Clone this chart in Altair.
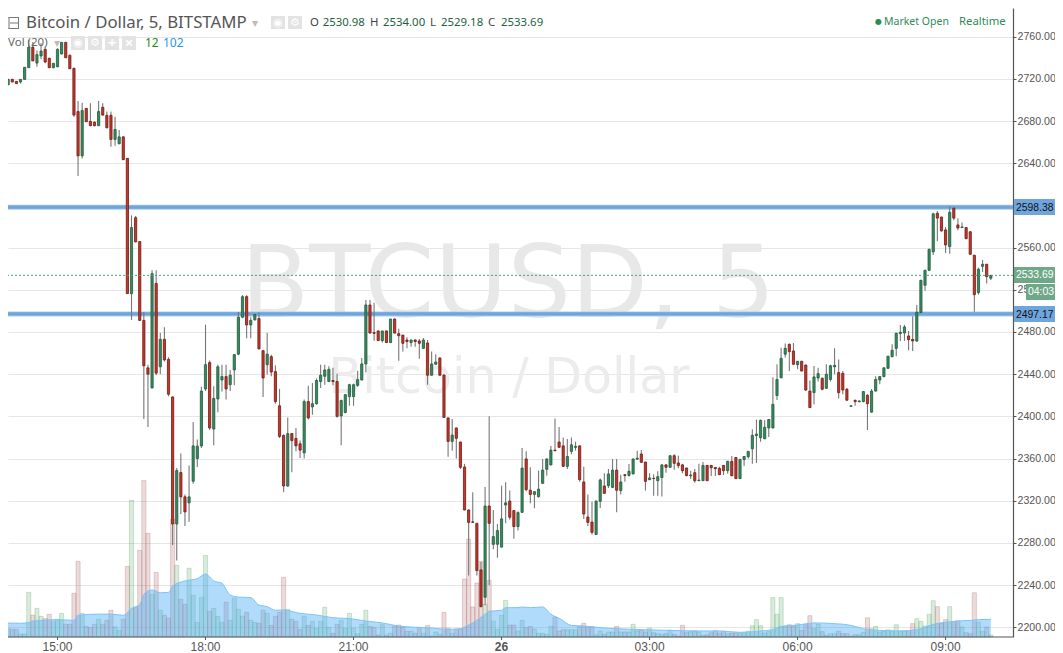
import altair as alt
import pandas as pd

first_bar = -13
opens = [
 2728,2714.5,2719.5,2717.6,2717,2719.5,2730.6,2750,2735,2741.7,
 2748,2739.5,2730.6,2731.5,2743.6,2754.6,2742.3,2730,2689,2647,
 2692,2679.7,2679,2675.6,2693,2685.4,2685.4,2662.6,2658.5,2665,
 2644.6,2516.4,2588.4,2565.7,2491,2446,2427,2526,2447,2473,
 2454,2418.4,2298,2346.7,2323.7,2318,2338.5,2360,2372,2426,
 2451,2388,2416.5,2434.5,2437.7,2430,2444,2459,2494,2513.5,
 2486.7,2491.5,2492.7,2462.3,2449,2456.6,2442.4,2410,2381.8,2334,
 2383.7,2379,2374,2365.4,2414,2409,2412,2433,2438,2433,
 2434,2433,2400.4,2403.6,2418.7,
 2418.7,2429.4,2434.5,2449.7,2505.6,2479.4,2481,2471.8,2481,2470,
 2492.3,2478.4,2477,2472.4,2470,2472.4,2471.5,2464.5,2469.6,2439,
 2449.4,2455.3,2439.2,2398.5,2376.3,2389,2375.7,2352,2311.2,2300,
 2298.6,2254.4,2228.5,2315,2278.7,2278.7,2276,2316,2319.7,2310.7,
 2295.5,2309,2359.6,2330,2326,2323.9,2336.5,2349.8,2354,2368,
 2375.7,2372,2352.6,2366.8,2370.6,2372,2337.8,2304.6,2299.8,2288,
 2319.5,2334,2334.3,2332.7,2349,2329.6,2344.7,2344,2345.4,2359.4,
 2364.3,2356.7,2340,2341.2,2339,2342,2354,2351.7,2362.7,2355.8,
 2354,2351,2343.6,2346.6,2339,
 2339,2353.5,2353.5,2351.6,2350.7,2353.5,2348.5,2357.3,2361,2341,
 2359,2361.8,2369.3,2381.7,2379.8,2378.8,2389,2389,2419.7,2436.7,
 2458.9,2468.3,2462,2449,2452.2,2448.7,2424,2422.5,2436.4,2436,
 2426.6,2435,2447,2441.5,2440.8,2425.7,2409.5,2415.3,2413.9,2414,
 2420,2404,2424,2434.5,2437.7,2445.6,2456.6,2464.5,2478.5,2479,
 2476.2,2473,2471.5,2498.4,2524.3,2538.5,2556,2592.5,2589,2576.8,
 2561,2597.3,2581.5,2579,2579,2575,2552.7,2517.3,2542.3,2544.2,
 2530.98,
]
highs = [
 2729.5,2720,2720,2718,2719.5,2731,2757,2755,2747,2753.7,
 2750.5,2740,2735,2749,2755,2755,2743,2730.5,2699,2697.4,
 2692.5,2696.8,2679.5,2699,2696.8,2689,2689,2684,2671.5,2665.5,
 2645,2590.6,2590,2566,2499,2449,2538.5,2538.5,2479,2484.5,
 2456,2419,2351,2364.7,2326,2353.4,2394.7,2378,2428,2487,
 2453,2428.5,2449,2449,2449,2444,2459,2499,2515,2514.8,
 2494,2497,2498.7,2463,2479,2458.5,2448.5,2426,2383,2399,
 2384,2389,2377,2416,2429,2431.7,2436,2449,2449,2447.5,
 2446,2440.5,2416,2421,2431,
 2431,2443.3,2455.3,2510.3,2510.3,2507.8,2481.5,2481,2481.5,2492.3,
 2492.8,2483,2477.5,2475,2472.8,2473,2473.4,2474.3,2472.4,2461.4,
 2459,2456,2439.7,2399,2397.5,2389.5,2376,2355,2312,2328,
 2299,2262,2333,2400,2311.3,2298,2334.3,2337.5,2329.6,2311,
 2310,2370,2367,2351.7,2329,2348.5,2359.6,2360,2372,2398,
 2390,2380,2378.5,2380,2376,2372.5,2352.3,2325.8,2319,2320.2,
 2341,2346,2350,2359.6,2359.6,2344.7,2345,2354.8,2360,2367.5,
 2368,2357,2346,2345,2348,2354.5,2354.5,2363,2364,2362.7,
 2355,2351.5,2348.5,2350,2355,
 2356.7,2354,2354,2352,2352.3,2354,2357.8,2362.4,2361.5,2359.6,
 2362.5,2367,2387.7,2397,2397,2396.2,2397.5,2437,2449.4,2465,
 2469,2469,2469.6,2452.6,2452.7,2449,2434,2447.8,2446,2437,
 2449.4,2449,2464.5,2454,2443,2427,2410.5,2415.8,2415,2424,
 2421,2426,2438,2438.2,2446.5,2457.5,2468.3,2479.3,2486.7,2486.7,
 2481,2495,2505.6,2529.5,2539,2558.9,2593,2594.8,2589.5,2579.6,
 2598.9,2598.6,2587.8,2583.7,2579.6,2575.7,2553.2,2541,2548.3,2544.7,
 2534,
]
lows = [
 2714,2714,2717,2715.5,2715.5,2719.5,2730.6,2737,2731.5,2738.5,
 2734.7,2730.6,2730,2731,2743,2740,2729.6,2684,2628,2644.6,
 2679,2675,2675,2675.6,2685,2673,2655.7,2656.6,2658,2643,
 2516,2491.4,2565,2490.5,2397.5,2390,2426.5,2439,2440,2452,
 2419,2278,2263.3,2307.5,2296,2300,2336,2352,2370,2424,
 2387,2372.6,2404,2423.6,2416,2424,2429.5,2458,2493,2474,
 2474,2491,2463.5,2418.4,2439.6,2438,2412,2379.5,2328,2333,
 2347,2367,2360.6,2360,2397,2401.6,2411,2427,2430,2433,
 2429.5,2399,2372.6,2403,2410,
 2410,2428,2434,2441.7,2478.5,2471.8,2471.5,2470,2470,2469.5,
 2478.5,2452.8,2461.4,2464.5,2466,2466,2454.7,2464,2430,2438.5,
 2449,2438.5,2399,2361.8,2367.5,2360,2350,2311,2249,2299,
 2249,2219,2221,2240,2274,2266,2276,2298.6,2302,2284,
 2291.7,2308.5,2329,2317.5,2312.8,2323,2336,2343.8,2353.5,2367,
 2370,2352,2350,2364,2367.5,2338,2302.7,2296,2288,2287.5,
 2313,2327,2332,2332,2309,2325.8,2338,2343,2345,2359,
 2356,2329.6,2339.5,2324.8,2324.8,2324,2346.6,2351.2,2349.5,2350.7,
 2346,2343.3,2340.6,2337,2339,
 2339,2339,2343.4,2343.4,2344.7,2344.4,2345.6,2343.2,2340.5,2340.5,
 2353,2360,2355,2355.8,2376,2378.3,2380.4,2388.5,2415.6,2436,
 2455.7,2443,2449,2444.6,2442.5,2424,2408,2411.5,2433,2424.7,
 2426,2433,2440,2417,2421,2415,2409,2410,2413.5,2413.5,
 2387,2403.5,2423.5,2430.5,2437.2,2445,2456,2457,2471.5,2471.5,
 2462.7,2462,2470.5,2498,2519,2538,2553,2566,2575.3,2555,
 2554.3,2586,2576.4,2578.5,2568,2553.2,2499.3,2515.4,2537,2526,
 2529.18,
]
closes = [
 2714,2719.5,2717,2715.5,2719.5,2731,2750,2737,2743,2746.4,
 2736,2730.6,2734.7,2748,2754.6,2740,2729.6,2685.7,2647,2690,
 2679.4,2675.6,2675.6,2689,2685.7,2673.7,2662.6,2672,2665,2643.4,
 2516.4,2579,2565.4,2491,2448,2440,2535.3,2441,2473,2453.5,
 2421,2298,2348.6,2323.7,2309.4,2323.7,2372,2371.7,2424,2449,
 2389,2417,2447,2437.7,2426,2439,2458.5,2494,2513.5,2486.7,
 2491,2496.5,2464,2436.4,2459,2442,2414,2381,2334,2383.6,
 2377,2372,2368,2414,2398.5,2412,2434,2439,2444,2444.6,
 2433,2400,2415,2420.6,2430,
 2430,2434.8,2449.7,2505.6,2479,2478.7,2471.8,2481,2470,2492.3,
 2479,2476.5,2469.3,2471,2472.4,2471,2469.3,2472.4,2439,2449.7,
 2451.5,2439,2399,2376.3,2382.3,2379.2,2351.7,2311.2,2299.5,2299.5,
 2253.8,2219.6,2315,2298.6,2286,2291.7,2302.8,2318,2304.3,2295.5,
 2308.7,2351,2330.5,2326,2328.6,2331,2349,2359.6,2368,2367.4,
 2370.7,2352.6,2362,2373,2371.6,2340,2307.4,2299.5,2290,2319.7,
 2339.7,2327,2345.4,2349,2330,2337.8,2344,2348,2359.6,2360.3,
 2356.4,2338.4,2341.6,2341,2342.8,2354,2351.7,2362.7,2355.5,2353.3,
 2348.5,2343.8,2344.4,2339,2339.6,
 2353.5,2339,2351.3,2350.4,2344.7,2348.5,2357.3,2343.7,2341,2359.2,
 2362,2366.8,2382,2383.2,2396.2,2389.6,2397,2411.4,2435,2455,
 2464.5,2461.4,2449.4,2452.2,2443,2425,2408.3,2437.4,2440.5,2425.7,
 2440,2448,2448.4,2422.5,2425,2415.3,2410,2414,2414.6,2423.5,
 2412,2424,2435,2437.7,2446,2457,2462.7,2478.8,2479.7,2484.8,
 2472.8,2471.5,2498.7,2529,2538.5,2558.4,2592,2588,2575.8,2562.5,
 2593.5,2588,2578.6,2579.6,2568.5,2553.7,2515.4,2539.5,2544.2,2532.5,
 2533.69,
]
volumes = [
 60,50,44,44,17,17,257,125,165,119,
 106,131,88,102,136,73,73,252,436,136,
 61,54,73,102,73,96,154,58,38,102,
 407,787,169,499,902,597,246,372,154,125,
 108,678,413,217,188,396,240,84,228,470,
 148,165,119,84,200,96,223,159,119,142,
 96,84,79,154,136,67,119,142,344,159,
 102,90,44,119,67,90,50,90,171,56,
 21,73,96,50,136,
 50,19,73,154,61,54,12,71,10,21,
 63,69,60,33,33,21,56,21,67,6,
 29,15,142,50,21,46,46,334,564,173,
 311,436,188,326,92,44,125,211,69,69,
 35,96,54,61,46,21,21,15,61,115,
 35,42,42,42,42,61,79,61,61,13,
 35,15,29,29,61,29,29,29,73,35,
 38,29,52,25,19,15,19,40,15,6,
 67,25,31,35,29,
 10,13,25,38,23,33,19,23,25,19,
 25,33,65,100,65,23,31,227,131,227,
 61,71,61,77,38,71,123,48,73,31,
 10,19,19,33,19,19,6,13,13,25,
 111,48,61,29,35,42,38,71,35,35,
 38,77,106,90,63,131,209,175,77,100,
 175,90,94,58,25,19,255,84,33,58,
 12,
]
ma_bars = [-13,-9,-7,-6,0,4,5,10,13,16,18,20,21,23,25,27,28,31,34,36,38,40,42,44,47,49,51,53,55,59,63,67,
           71,75,79,83,87,91,95,98,100,102,104,105,108,109,112,113,115,118,120,122,125,128,133,140,149,156,
           161,166,171,174,176,180,184,189,193,196,200,205,209,213,218,222,224,227]
ma_vals = [81,79,83,92,100,96,125,132,132,125,165,186,246,271,255,257,294,323,336,363,323,309,242,230,227,184,175,154,156,136,127,111,
           106,92,81,63,56,52,44,48,69,96,131,148,154,169,169,173,169,173,131,108,67,63,52,44,38,35,
           35,27,35,42,61,69,81,77,67,48,38,35,42,73,90,96,100,102]
y_ticks = [2200, 2240, 2280, 2320, 2360, 2400, 2440, 2480, 2520, 2560, 2640, 2680, 2720, 2760]
x_tick_bars = [0, 36, 72, 108, 144, 180, 216]
x_tick_labels = ["15:00", "18:00", "21:00", "26", "03:00", "06:00", "09:00"]
levels = [2598.38, 2497.17]
last_price = 2533.69

n = len(opens)
assert all(len(a) == n for a in (highs, lows, closes, volumes)), (n, len(highs), len(lows), len(closes), len(volumes))
df = pd.DataFrame({
    "bar": [first_bar + k for k in range(n)],
    "o": opens, "h": highs, "l": lows, "c": closes, "v": volumes,
})
df["up"] = df.c >= df.o
ma = pd.DataFrame({"bar": ma_bars, "ma": ma_vals})
ticks = pd.DataFrame({"bar": x_tick_bars, "label": x_tick_labels})
ticks["bold"] = ticks.label == "26"

W, H = 1005, 629
xs = alt.Scale(domain=[-12.04, 232.4], nice=False, zero=False, padding=0)
ys = alt.Scale(domain=[2190.8, 2787.2], nice=False, zero=False)
vs = alt.Scale(domain=[0, 3623], nice=False, zero=False)
GRID = "#e6e6e6"
AX = "#555555"
FONT = "Liberation Sans"
HEAD = "Noto Sans"
X = alt.X("bar:Q", scale=xs, axis=None)


def text(s, x, y, size=12, color="#555555", font=HEAD, align="left", weight="normal"):
    return alt.Chart(alt.Data(values=[{"t": s}])).mark_text(
        align=align, baseline="middle", fontSize=size, color=color, font=font, fontWeight=weight
    ).encode(x=alt.value(x - 8), y=alt.value(y - 8), text="t:N")


def box(x0, x1, y0, y1, color):
    return alt.Chart(alt.Data(values=[{"a": 1}])).mark_rect(color=color).encode(
        x=alt.value(x0 - 8), x2=alt.value(x1 - 8), y=alt.value(y0 - 8), y2=alt.value(y1 - 8)
    )


axes = alt.Chart(df).mark_point(opacity=0).encode(
    x=alt.X("bar:Q", scale=xs, title=None, axis=alt.Axis(
        orient="bottom", values=x_tick_bars, labels=False, ticks=False, domain=False,
        grid=True, gridColor=GRID, gridWidth=1)),
    y=alt.Y("c:Q", scale=ys, title=None, axis=alt.Axis(
        values=y_ticks, orient="right", format=".2f", grid=True, gridColor=GRID, gridWidth=1,
        domainColor=AX, tickColor=AX, tickSize=3, labelColor=AX, labelFont=FONT, labelFontSize=10.6,
        labelPadding=1, labelOverlap=False, domainWidth=1.2)),
)

wm1 = text("BTCUSD, 5", 508, 287, 100, "#e8e8e8", "DejaVu Sans", "center")
wm2 = text("Bitcoin / Dollar", 509, 378, 49, "#ececec", "DejaVu Sans", "center")

vol = alt.Chart(df).mark_bar(size=4.1, strokeWidth=0.8, fillOpacity=0.2, strokeOpacity=0.3).encode(
    x=X, y=alt.Y("v:Q", scale=vs, axis=None), y2=alt.value(H),
    fill=alt.condition("datum.up", alt.value("#3f9a50"), alt.value("#a04a4a")),
    stroke=alt.condition("datum.up", alt.value("#3f9a50"), alt.value("#a04a4a")),
)
area = alt.Chart(ma).mark_area(color="#4fb0f7", opacity=0.45, interpolate="monotone", line={"color": "#7cc4f8", "strokeWidth": 1}).encode(
    x=X, y=alt.Y("ma:Q", scale=vs, axis=None))
lev = pd.DataFrame({"p": levels})
halo = alt.Chart(lev).mark_rule(color="#a9cbea", strokeWidth=5).encode(y=alt.Y("p:Q", scale=ys, axis=None))
core = alt.Chart(lev).mark_rule(color="#6fa5dd", strokeWidth=3.4).encode(y=alt.Y("p:Q", scale=ys, axis=None))
wick = alt.Chart(df).mark_rule(color="#777777", strokeWidth=1.1).encode(
    x=X, y=alt.Y("l:Q", scale=ys, axis=None), y2="h:Q")
body = alt.Chart(df).mark_bar(size=2.2, strokeWidth=0.8).encode(
    x=X, y=alt.Y("o:Q", scale=ys, axis=None), y2="c:Q",
    fill=alt.condition("datum.up", alt.value("#3a8a60"), alt.value("#c8362a")),
    stroke=alt.condition("datum.up", alt.value("#1f5c3c"), alt.value("#6e1c14")),
)
last = alt.Chart(pd.DataFrame({"p": [last_price]})).mark_rule(color="#3fa873", strokeWidth=1, strokeDash=[2, 2]).encode(
    y=alt.Y("p:Q", scale=ys, axis=None))

# bottom time axis: line, ticks, labels
x_line = alt.Chart(alt.Data(values=[{"a": 1}])).mark_rule(color=AX, strokeWidth=1.2).encode(
    x=alt.value(0), x2=alt.value(W), y=alt.value(H))
x_tick = alt.Chart(ticks).mark_rule(color=AX, strokeWidth=1).encode(
    x=X, y=alt.value(H), y2=alt.value(H + 3))
x_lab = alt.Chart(ticks[~ticks.bold]).mark_text(baseline="middle", fontSize=12, font=FONT, color=AX).encode(
    x=X, y=alt.value(H + 10), text="label:N")
x_lab_b = alt.Chart(ticks[ticks.bold]).mark_text(baseline="middle", fontSize=12, font=FONT, color=AX, fontWeight="bold").encode(
    x=X, y=alt.value(H + 10), text="label:N")

parts = [axes, wm1, wm2, vol, area, halo, core, wick, body, last, x_line, x_tick, x_lab, x_lab_b]

parts += [
    box(1014, 1055, 199, 215, "#6fa5dd"), text("2598.38", 1016, 207.5, 10.4, "#111111", FONT),
    box(1014, 1055, 267, 283, "#6fa888"), text("2533.69", 1016, 275, 10.4, "#ffffff", FONT),
    box(1026, 1055, 284, 300, "#6fa888"), text("04:03", 1028, 292, 10.4, "#ffffff", FONT),
    box(1014, 1055, 306, 322, "#6fa5dd"), text("2497.17", 1016, 314.5, 10.4, "#111111", FONT),
]

parts += [
    box(8, 19, 17, 29, "#ffffff"),
    box(8.5, 9.5, 17, 29, "#777777"), box(18, 19, 17, 29, "#777777"),
    box(8.5, 19, 17, 18, "#777777"), box(8.5, 19, 28, 29, "#777777"), box(10, 18, 22.5, 23.5, "#777777"),
    text("Bitcoin / Dollar, 5, BITSTAMP", 26, 23, 16.8, "#555555"),
    text("▾", 252, 23, 12, "#bbbbbb", "DejaVu Sans"),
    box(271, 285, 16, 29, "#e3e3e3"), box(288, 302, 16, 29, "#e3e3e3"),
    text("◉", 278, 22.5, 11, "#ffffff", "DejaVu Sans", "center"), text("⚙", 295, 22.5, 11, "#ffffff", "DejaVu Sans", "center"),
    text("O", 310, 23, 11.4, "#444444"), text("2530.98", 322.7, 23, 11.4, "#235f3f"),
    text("H", 370, 23, 11.4, "#444444"), text("2534.00", 383, 23, 11.4, "#235f3f"),
    text("L", 430, 23, 11.4, "#444444"), text("2529.18", 441, 23, 11.4, "#235f3f"),
    text("C", 488, 23, 11.4, "#444444"), text("2533.69", 501, 23, 11.4, "#235f3f"),
    text("Vol (20)", 8, 43, 11.5, "#666666"),
    text("▾", 54, 43, 12, "#bbbbbb", "DejaVu Sans"),
    box(71, 85, 36, 50, "#e3e3e3"), box(88, 102, 36, 50, "#e3e3e3"), box(105, 119, 36, 50, "#e3e3e3"), box(122, 136, 36, 50, "#e3e3e3"),
    text("◉", 78, 42.5, 11, "#ffffff", "DejaVu Sans", "center"), text("⚙", 95, 42.5, 11, "#ffffff", "DejaVu Sans", "center"),
    text("+", 112, 43, 15, "#ffffff", align="center", weight="bold"), text("×", 129, 43, 15, "#ffffff", align="center", weight="bold"),
    text("12", 145, 43, 12, "#1e8a1e"), text("102", 163, 43, 12, "#2196f3"),
    text("●", 875, 22, 8, "#2e8b57", "DejaVu Sans"), text("Market Open", 884, 22, 10.5, "#2e8b57"), text("Realtime", 959, 22, 11.3, "#2e8b57"),
]

chart = alt.layer(*parts).resolve_scale(y="independent").properties(
    width=W, height=H,
    autosize=alt.AutoSizeParams(type="none"),
    padding={"left": 0, "top": 0, "right": 42, "bottom": 16},
).configure_view(stroke=None)

chart.save("out.html", embed_options={"renderer": "svg", "actions": False})
